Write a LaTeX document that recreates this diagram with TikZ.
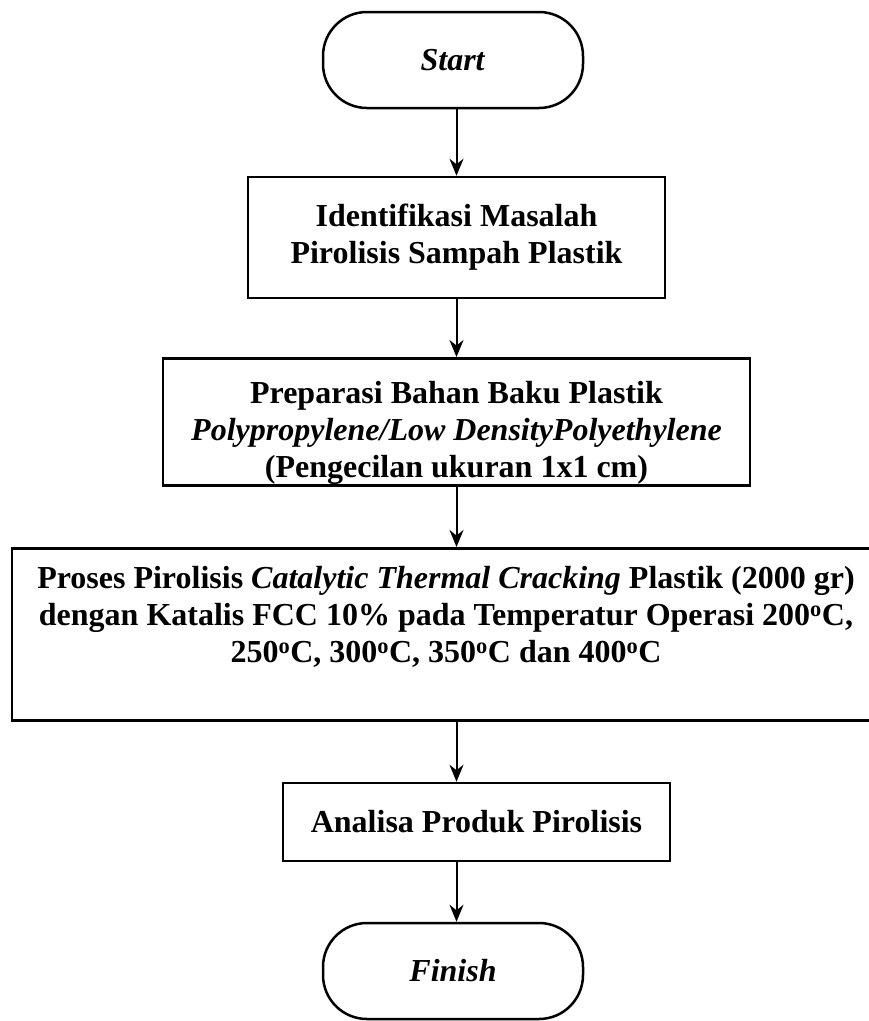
\documentclass[tikz,border=0pt]{standalone}
\usepackage{fontspec}
\setmainfont{Liberation Serif}
\usetikzlibrary{arrows.meta}

\begin{document}
\begin{tikzpicture}[
    x=1pt, y=-1pt,
    >=Stealth,
    boxtext/.style={
        font=\fontsize{32}{37}\selectfont\bfseries,
        align=center,
        inner sep=0pt,
    },
    processbox/.style={boxtext, draw, line width=2.5pt},
    terminal/.style={
        boxtext, draw, line width=2.5pt,
        rounded corners=44pt,
        minimum width=260pt, minimum height=96pt,
    },
    flowarrow/.style={
        line width=2pt,
        -{Stealth[length=17pt, width=14pt]},
    },
]
\useasboundingbox (0,0) rectangle (869,1021);

% =============================================
% TERMINAL – start
% =============================================
\node[terminal] (start) at (453,60) {\textit{Start}};

% =============================================
% PROCESS BOXES
% =============================================
\node[processbox, minimum width=417pt, minimum height=121pt] (ident) at (456.5,237.5) {%
  Identifikasi Masalah\\
  Pirolisis Sampah Plastik%
};

% text sits low, last line runs into the bottom edge
\node[processbox, minimum width=587pt, text height=119pt, text depth=8pt] (prep) at (456.5,357) [anchor=north] {%
  Preparasi Bahan Baku Plastik\\
  \textit{Polypropylene/Low DensityPolyethylene}\\
  (Pengecilan ukuran 1x1 cm)%
};

% text sits in the upper part of the box
\node[processbox, minimum width=868pt, text height=114pt, text depth=58pt] (piro) at (446,547) [anchor=north] {%
  Proses Pirolisis \textit{Catalytic Thermal Cracking} Plastik (2000 gr)\\
  dengan Katalis FCC 10\% pada Temperatur Operasi 200\textsuperscript{o}C,\\
  250\textsuperscript{o}C, 300\textsuperscript{o}C, 350\textsuperscript{o}C dan 400\textsuperscript{o}C%
};

\node[processbox, minimum width=387pt, minimum height=78pt] (analisa) at (476.5,822) {%
  Analisa Produk Pirolisis%
};

% =============================================
% TERMINAL – finish
% =============================================
\node[terminal] (finish) at (453,971) {\textit{Finish}};

% =============================================
% ARROWS (all on the axis of the first box)
% =============================================
\draw[flowarrow] (start.south -| ident) -- (ident.north);
\draw[flowarrow] (ident.south) -- (prep.north);
\draw[flowarrow] (prep.south) -- (prep.south |- piro.north);
\draw[flowarrow] (piro.south -| prep) -- (analisa.north -| prep);
\draw[flowarrow] (analisa.south -| prep) -- (finish.north -| prep);

\end{tikzpicture}
\end{document}
